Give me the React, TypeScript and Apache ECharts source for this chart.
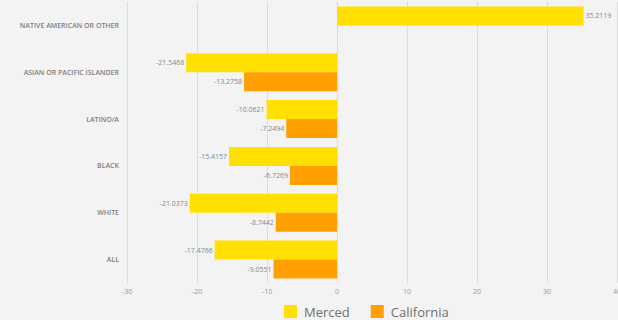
import React, { useEffect, useRef } from "react";
import * as echarts from "echarts";

const categories = ["ALL", "WHITE", "BLACK", "LATINO/A", "ASIAN OR PACIFIC ISLANDER", "NATIVE AMERICAN OR OTHER"];
const merced = [-17.4766, -21.0373, -15.4157, -10.0621, -21.5468, 35.2119];
const california: (number | null)[] = [-9.0551, -8.7442, -6.7269, -7.2494, -13.2758, null];
const xTicks = { min: -30, max: 40, interval: 10 };

export default function App() {
  const ref = useRef<HTMLDivElement>(null);
  useEffect(() => {
    const chart = echarts.init(ref.current!, null, { renderer: "svg" });
    const label = {
      show: true,
      fontSize: 7,
      color: "#888",
      fontFamily: "Open Sans",
      distance: 2,
    };
    const mkLabel = (vals: (number | null)[]) =>
      vals.map((v) => ({
        value: v,
        label: { ...label, position: v != null && v >= 0 ? "right" : "left" },
      }));
    chart.setOption({
      animation: false,
      backgroundColor: "#f2f3f2",
      grid: { left: 127, right: 1, top: 2, bottom: 37, containLabel: false, outerBoundsMode: "none" },
      legend: {
        top: 300,
        left: 279,
        itemWidth: 13,
        itemHeight: 13,
        itemGap: 21,
        icon: "rect",
        textStyle: { fontSize: 13, color: "#707070", fontFamily: "Open Sans", padding: [0, 0, 0, 2] },
        data: ["Merced", "California"],
      },
      xAxis: {
        type: "value",
        min: xTicks.min,
        max: xTicks.max,
        interval: xTicks.interval,
        axisLine: { show: false },
        axisTick: { show: false },
        splitLine: { show: true, lineStyle: { color: "#dcdcdc", width: 1 } },
        axisLabel: { fontSize: 7, color: "#999", fontFamily: "Open Sans", margin: 5 },
      },
      yAxis: {
        type: "category",
        data: categories,
        axisLine: { show: false },
        axisTick: { show: false },
        axisLabel: {
          fontSize: 7,
          color: "#808080",
          fontWeight: 600,
          fontFamily: "Open Sans",
          margin: 8,
        },
      },
      series: [
        {
          name: "Merced",
          type: "bar",
          data: mkLabel(merced),
          itemStyle: { color: "#ffe000" },
          barGap: "0%",
          barCategoryGap: "19%",
        },
        {
          name: "California",
          type: "bar",
          data: mkLabel(california),
          itemStyle: { color: "#ffa000" },
          barGap: "0%",
          barCategoryGap: "19%",
        },
      ],
    });
    return () => chart.dispose();
  }, []);
  return (
    <div
      ref={ref}
      style={{ position: "fixed", left: 0, top: 0, width: 618, height: 320 }}
    />
  );
}
